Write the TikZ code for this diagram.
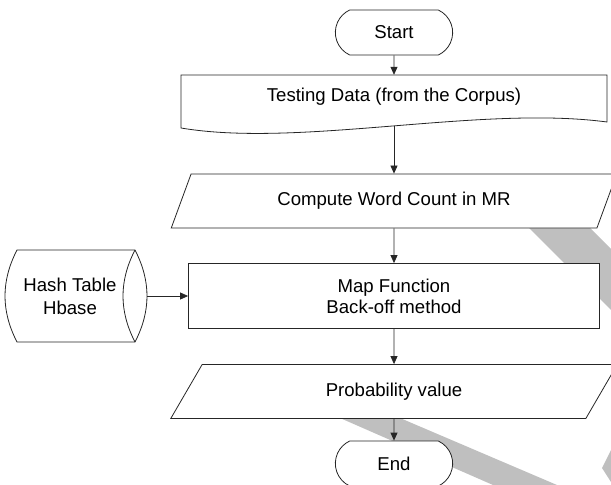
\documentclass[tikz,border=0pt]{standalone}
\usepackage{fontspec}
\setmainfont{Liberation Sans}
\usepackage{tikz}
\usetikzlibrary{shapes.geometric, shapes.misc, arrows.meta}
\newcommand{\chartfont}{\fontsize{18.6}{21}\selectfont}

\begin{document}
\begin{tikzpicture}[x=1pt, y=-1pt,
    outl/.style={draw=black!85, line width=0.8pt},
    term/.style={rounded rectangle, rounded rectangle arc length=130, outl, fill=white, minimum width=124pt, minimum height=45pt, font=\chartfont},
    io/.style={trapezium, trapezium left angle=64, trapezium right angle=116, trapezium stretches=true, outl, fill=white, minimum width=447pt, minimum height=54pt, font=\chartfont},
    proc/.style={rectangle, outl, fill=white, minimum width=411pt, minimum height=65pt, align=center, font=\chartfont},
    txt/.style={align=center, font=\chartfont},
    arrow/.style={-{Triangle[length=8pt, width=7pt]}, draw=black!85, line width=0.8pt},
    wmark/.style={fill=gray!50}
]
\useasboundingbox (0,0) rectangle (611,485);

% watermark stripes in the background
\fill[wmark] (521,220) -- (582,220) -- (611,249) -- (611,310) -- cycle;
\fill[wmark] (340,418) -- (400,418) -- (557,485) -- (493,485) -- cycle;
\fill[wmark] (602,468) -- (611,450) -- (611,482) -- cycle;

\node[term] (start) at (394,32.5) {Start};

% document shape
\draw[outl, fill=white] (181,75) -- (607,75) -- (607,122) .. controls (480,105) and (300,148) .. (181,128) -- cycle;
\node[txt, minimum width=426pt, minimum height=44pt] (td) at (394,97) {Testing Data (from the Corpus)};
\coordinate (tdout) at (394,126);

\node[io] (cw) at (394,201) {Compute Word Count in MR};
\node[proc] (map) at (394,296) {Map Function\\Back-off method};
\node[io] (prob) at (394,391.5) {Probability value};
\node[term] (end) at (394,463.5) {End};

% stored data shape
\draw[outl, fill=white] (135,250) -- (17,250) .. controls (1,281) and (1,311) .. (17,342) -- (135,342) .. controls (151,311) and (151,281) .. (135,250) -- cycle;
\draw[outl] (135,250) .. controls (119,281) and (119,311) .. (135,342);
\node[txt] (hash) at (70,296) {Hash Table\\[2pt]Hbase};
\coordinate (hashout) at (147,296);

\draw[arrow] (start) -- (td);
\draw[arrow] (tdout) -- (cw);
\draw[arrow] (cw) -- (map);
\draw[arrow] (hashout) -- (map);
\draw[arrow] (map) -- (prob);
\draw[arrow] (prob) -- (end);
\end{tikzpicture}
\end{document}
